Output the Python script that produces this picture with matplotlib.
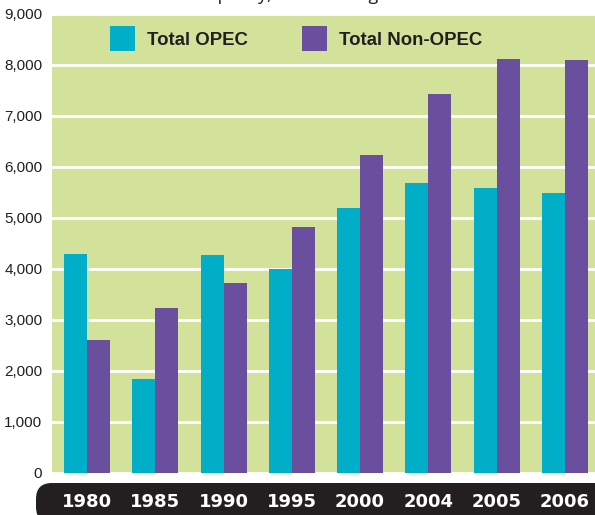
import matplotlib
matplotlib.use("Agg")
import matplotlib.pyplot as plt
from matplotlib.patches import FancyBboxPatch
from matplotlib import font_manager as fm
import numpy as np

years = ["1980", "1985", "1990", "1995", "2000", "2004", "2005", "2006"]
opec = [4300, 1830, 4280, 4000, 5200, 5690, 5590, 5490]
non_opec = [2610, 3240, 3730, 4830, 6240, 7430, 8120, 8100]
yticks = [0, 1000, 2000, 3000, 4000, 5000, 6000, 7000, 8000, 9000]
ytick_labels = ["0", "1,000", "2,000", "3,000", "4,000", "5,000", "6,000", "7,000", "8,000", "9,000"]

TEAL = "#00afc7"
PURPLE = "#6a4f9f"
GREEN = "#d3e29b"
DARK = "#231f20"

names = {f.name for f in fm.fontManager.ttflist}
if "Liberation Sans Narrow" in names:
    NARROW = ["Liberation Sans Narrow", "DejaVu Sans"]
    ysize, lsize = 12.5, 15.5
else:
    NARROW = ["Liberation Sans", "DejaVu Sans"]
    ysize, lsize = 11, 13.4

W, H = 595, 515
fig = plt.figure(figsize=(W / 100, H / 100), dpi=100)
fig.patch.set_facecolor("white")

# black strip behind year labels
strip = fig.add_axes([0, 0, 1, 1], zorder=0)
strip.set_xlim(0, W)
strip.set_ylim(H, 0)
strip.axis("off")
strip.add_patch(FancyBboxPatch((36, 483), W + 60, 40,
                               boxstyle="round,pad=0,rounding_size=16",
                               facecolor=DARK, edgecolor="none"))

ax = fig.add_axes([52 / W, (H - 474) / H, 1 - 52 / W, (474 - 14) / H], zorder=1)
ax.set_facecolor(GREEN)
x = np.arange(len(years))
bw = 0.337
b1 = ax.bar(x - bw / 2, opec, bw, color=TEAL, label="Total OPEC", zorder=3)
b2 = ax.bar(x + bw / 2, non_opec, bw, color=PURPLE, label="Total Non-OPEC", zorder=3)
ax.set_xlim(-0.512, 7.44)
ax.set_ylim(-25, 9000)
ax.set_yticks(yticks)
ax.set_yticklabels(ytick_labels, family=NARROW, fontsize=ysize, color=DARK)
ax.yaxis.grid(True, color="white", linewidth=2, zorder=1)
ax.set_axisbelow(True)
ax.set_xticks(x)
ax.set_xticklabels(years, fontsize=13, fontweight="bold", color="white")
ax.tick_params(axis="x", length=0, pad=13.5)
ax.tick_params(axis="y", length=0, pad=7)
for s in ax.spines.values():
    s.set_visible(False)

fpx = lsize * 100 / 72
leg = ax.legend(handles=[b1, b2], loc="upper left", ncol=2,
                bbox_to_anchor=(110 / W, 1 - 26 / H), bbox_transform=fig.transFigure,
                frameon=False, borderpad=0, borderaxespad=0,
                handlelength=25 / fpx, handleheight=32 / fpx,
                handletextpad=12 / fpx,
                columnspacing=54 / fpx,
                prop={"family": NARROW, "weight": "bold", "size": lsize})
for t in leg.get_texts():
    t.set_color(DARK)

# cropped title line at the very top
fig.text(199 / W, 1.0, "capacity, 1980 through 2006", fontsize=13,
         color=DARK, va="baseline", ha="left", family=["Open Sans", "DejaVu Sans"])

fig.savefig("out.png", dpi=100, facecolor="white")
